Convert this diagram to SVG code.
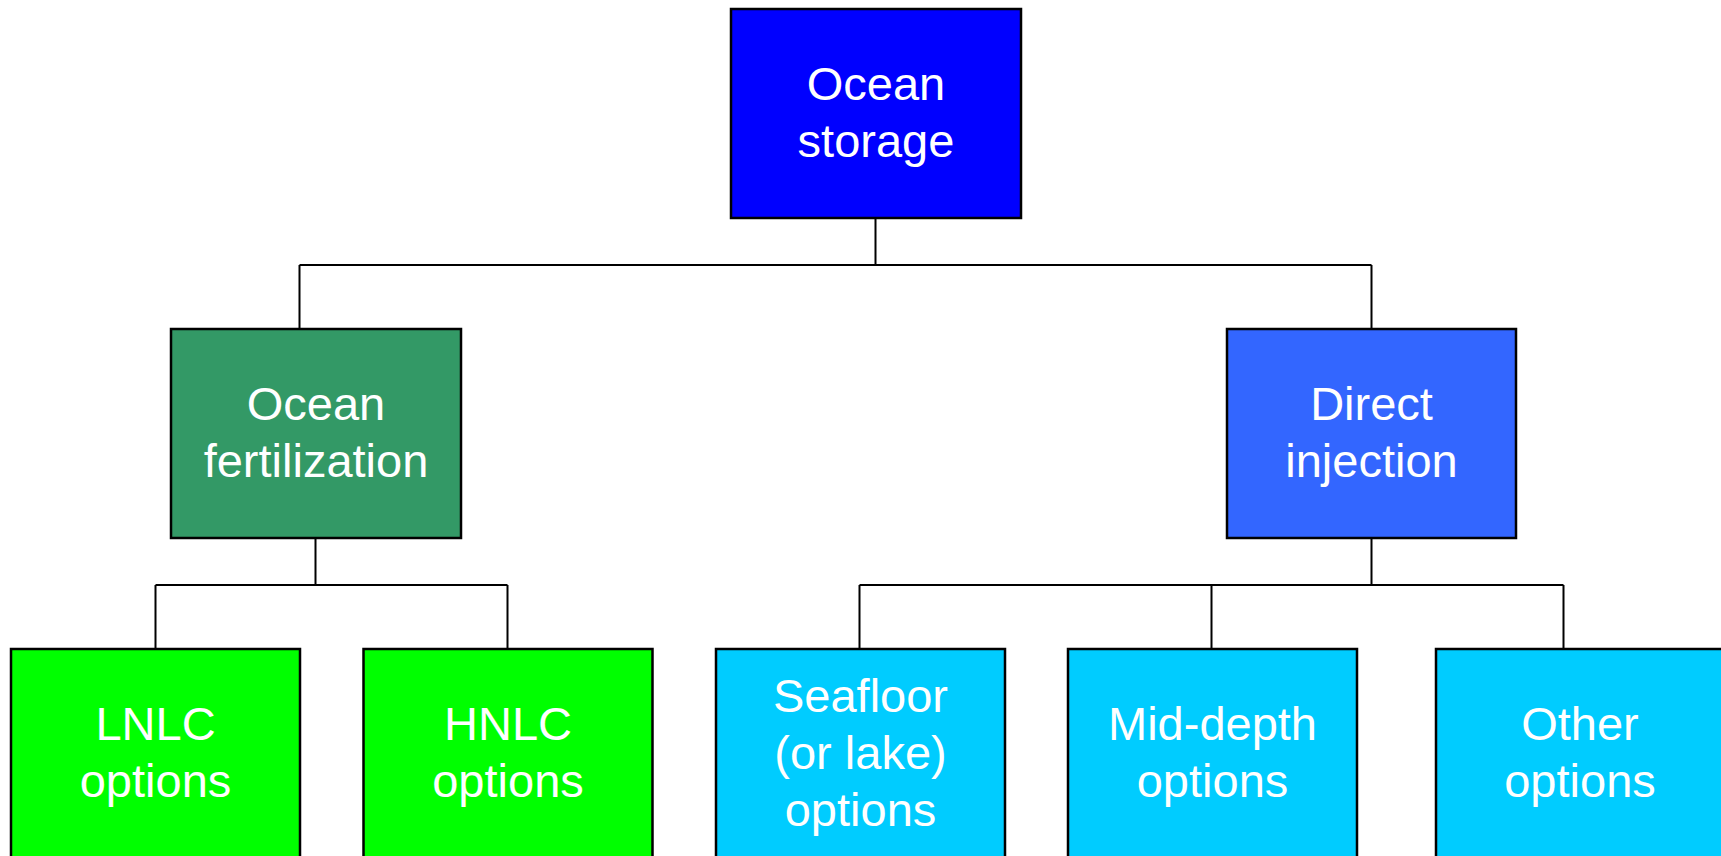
<svg xmlns="http://www.w3.org/2000/svg" width="1721" height="856" viewBox="0 0 1721 856">
<style>
.box{stroke:#000;stroke-width:2.5}
.t{font-family:"Liberation Sans",Arial,sans-serif;font-size:47px;fill:#fff;text-anchor:middle}
.c{fill:none;stroke:#000;stroke-width:2}
</style>
<rect width="1721" height="856" fill="#fff"/>
<g id="connectors">
<path class="c" d="M875.5 218V265M299.5 265H1371.5M299.5 265V329M1371.5 265V329"/>
<path class="c" d="M315.5 538V585M155.5 585H507.5M155.5 585V649M507.5 585V649"/>
<path class="c" d="M1371.5 538V585M859.5 585H1563.5M859.5 585V649M1211.5 585V649M1563.5 585V649"/>
</g>
<g id="ocean-storage">
<rect class="box" x="731" y="9" width="290" height="209" fill="#0000FF"/>
<text class="t" x="876" y="100">Ocean</text>
<text class="t" x="876" y="157">storage</text>
</g>
<g id="ocean-fertilization">
<rect class="box" x="171" y="329" width="290" height="209" fill="#339966"/>
<text class="t" x="316" y="420">Ocean</text>
<text class="t" x="316" y="477">fertilization</text>
</g>
<g id="direct-injection">
<rect class="box" x="1227" y="329" width="289" height="209" fill="#3366FF"/>
<text class="t" x="1371.5" y="420">Direct</text>
<text class="t" x="1371.5" y="477">injection</text>
</g>
<g id="lnlc">
<rect class="box" x="11" y="649" width="289" height="209" fill="#00FF00"/>
<text class="t" x="155.5" y="740">LNLC</text>
<text class="t" x="155.5" y="797">options</text>
</g>
<g id="hnlc">
<rect class="box" x="363.5" y="649" width="289" height="209" fill="#00FF00"/>
<text class="t" x="508" y="740">HNLC</text>
<text class="t" x="508" y="797">options</text>
</g>
<g id="seafloor">
<rect class="box" x="716" y="649" width="289" height="209" fill="#00CCFF"/>
<text class="t" x="860.5" y="712">Seafloor</text>
<text class="t" x="860.5" y="769">(or lake)</text>
<text class="t" x="860.5" y="826">options</text>
</g>
<g id="mid-depth">
<rect class="box" x="1068" y="649" width="289" height="209" fill="#00CCFF"/>
<text class="t" x="1212.5" y="740">Mid-depth</text>
<text class="t" x="1212.5" y="797">options</text>
</g>
<g id="other">
<rect class="box" x="1436" y="649" width="289" height="209" fill="#00CCFF"/>
<text class="t" x="1580" y="740">Other</text>
<text class="t" x="1580" y="797">options</text>
</g>
</svg>
